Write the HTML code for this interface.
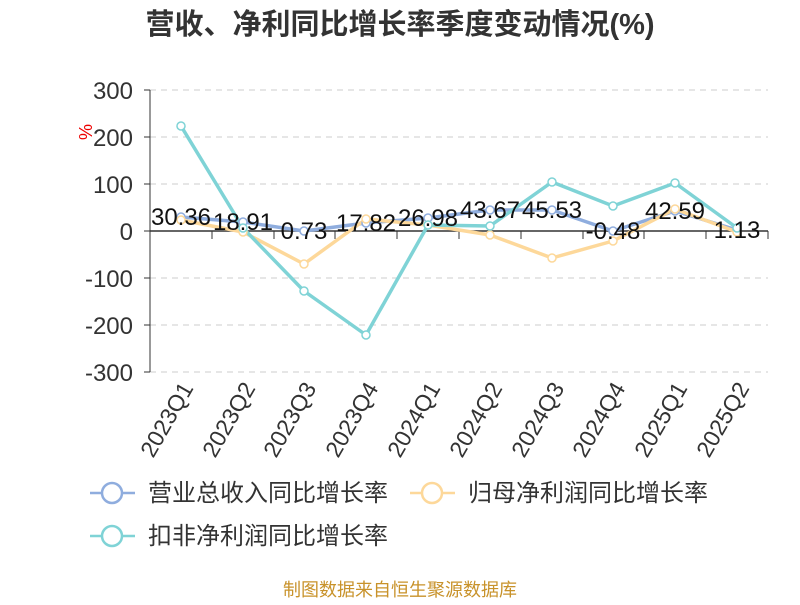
<!DOCTYPE html>
<html><head><meta charset="utf-8"><style>
body{margin:0;background:#fff;}
svg text{font-family:"Liberation Sans","Noto Sans CJK SC",sans-serif;}
</style></head><body>
<svg width="800" height="600" xmlns="http://www.w3.org/2000/svg">
<rect width="800" height="600" fill="#fff"/>
<text x="400" y="34" text-anchor="middle" font-size="29" font-weight="bold" fill="#333">营收、净利同比增长率季度变动情况(%)</text>
<g stroke="#ccc" stroke-dasharray="6,5" stroke-width="1">
<line x1="150" y1="90" x2="768" y2="90"/><line x1="150" y1="137" x2="768" y2="137"/><line x1="150" y1="184" x2="768" y2="184"/>
<line x1="150" y1="278" x2="768" y2="278"/><line x1="150" y1="325" x2="768" y2="325"/><line x1="150" y1="372" x2="768" y2="372"/>
</g>
<line x1="150" y1="90" x2="150" y2="372" stroke="#333"/>
<g stroke="#333"><line x1="144" y1="90" x2="150" y2="90"/><line x1="144" y1="137" x2="150" y2="137"/><line x1="144" y1="184" x2="150" y2="184"/><line x1="144" y1="231" x2="150" y2="231"/><line x1="144" y1="278" x2="150" y2="278"/><line x1="144" y1="325" x2="150" y2="325"/><line x1="144" y1="372" x2="150" y2="372"/></g>
<line x1="150" y1="231" x2="768" y2="231" stroke="#333" stroke-width="1.5"/>
<g stroke="#333">
<line x1="212" y1="231" x2="212" y2="239"/><line x1="274" y1="231" x2="274" y2="239"/><line x1="335" y1="231" x2="335" y2="239"/><line x1="397" y1="231" x2="397" y2="239"/><line x1="459" y1="231" x2="459" y2="239"/><line x1="521" y1="231" x2="521" y2="239"/><line x1="583" y1="231" x2="583" y2="239"/><line x1="644" y1="231" x2="644" y2="239"/><line x1="706" y1="231" x2="706" y2="239"/><line x1="768" y1="231" x2="768" y2="239"/>
</g>
<g font-size="24" fill="#333" text-anchor="end">
<text x="133" y="99">300</text><text x="133" y="146">200</text><text x="133" y="193">100</text><text x="133" y="240">0</text><text x="133" y="287">-100</text><text x="133" y="334">-200</text><text x="133" y="381">-300</text>
</g>
<text x="0" y="0" font-size="18" fill="#e00" transform="translate(92,132) rotate(-90)" text-anchor="middle">%</text>
<g font-size="23" fill="#333" text-anchor="end">
<text transform="translate(194,388) rotate(-60)">2023Q1</text>
<text transform="translate(256,388) rotate(-60)">2023Q2</text>
<text transform="translate(317,388) rotate(-60)">2023Q3</text>
<text transform="translate(379,388) rotate(-60)">2023Q4</text>
<text transform="translate(441,388) rotate(-60)">2024Q1</text>
<text transform="translate(503,388) rotate(-60)">2024Q2</text>
<text transform="translate(565,388) rotate(-60)">2024Q3</text>
<text transform="translate(626,388) rotate(-60)">2024Q4</text>
<text transform="translate(688,388) rotate(-60)">2025Q1</text>
<text transform="translate(750,388) rotate(-60)">2025Q2</text>
</g>
<g fill="none" stroke-width="3.5" stroke-linejoin="round">
<polyline stroke="#8fadde" points="181,217 243,222 304,231 366,223 428,218 490,210 552,210 613,231 675,211 737,230"/>
<polyline stroke="#fdd89a" points="181,220 243,232 304,264 366,219 428,225 490,235 552,258 613,241 675,209 737,232"/>
<polyline stroke="#7fd3d6" points="181,126 243,228 304,291 366,335 428,225 490,226 552,182 613,206 675,183 737,228"/>
</g>
<g fill="#fff" stroke-width="1.5">
<g stroke="#8fadde"><circle cx="181" cy="217" r="4"/><circle cx="243" cy="222" r="4"/><circle cx="304" cy="231" r="4"/><circle cx="366" cy="223" r="4"/><circle cx="428" cy="218" r="4"/><circle cx="490" cy="210" r="4"/><circle cx="552" cy="210" r="4"/><circle cx="613" cy="231" r="4"/><circle cx="675" cy="211" r="4"/><circle cx="737" cy="230" r="4"/></g>
<g stroke="#fdd89a"><circle cx="181" cy="220" r="4"/><circle cx="243" cy="232" r="4"/><circle cx="304" cy="264" r="4"/><circle cx="366" cy="219" r="4"/><circle cx="428" cy="225" r="4"/><circle cx="490" cy="235" r="4"/><circle cx="552" cy="258" r="4"/><circle cx="613" cy="241" r="4"/><circle cx="675" cy="209" r="4"/><circle cx="737" cy="232" r="4"/></g>
<g stroke="#7fd3d6"><circle cx="181" cy="126" r="4"/><circle cx="243" cy="228" r="4"/><circle cx="304" cy="291" r="4"/><circle cx="366" cy="335" r="4"/><circle cx="428" cy="225" r="4"/><circle cx="490" cy="226" r="4"/><circle cx="552" cy="182" r="4"/><circle cx="613" cy="206" r="4"/><circle cx="675" cy="183" r="4"/><circle cx="737" cy="228" r="4"/></g>
</g>
<g font-size="24" fill="#111" text-anchor="middle">
<text x="181" y="225">30.36</text><text x="243" y="230">18.91</text><text x="304" y="239">0.73</text><text x="366" y="231">17.82</text><text x="428" y="226">26.98</text><text x="490" y="218">43.67</text><text x="552" y="218">45.53</text><text x="613" y="239">-0.48</text><text x="675" y="219">42.59</text><text x="737" y="238">1.13</text>
</g>
<g stroke-width="2.5" fill="#fff">
<line x1="90" y1="493" x2="135" y2="493" stroke="#8fadde"/><circle cx="112" cy="493" r="10" stroke="#8fadde"/>
<line x1="410" y1="493" x2="455" y2="493" stroke="#fdd89a"/><circle cx="432" cy="493" r="10" stroke="#fdd89a"/>
<line x1="90" y1="536" x2="135" y2="536" stroke="#7fd3d6"/><circle cx="112" cy="536" r="10" stroke="#7fd3d6"/>
</g>
<g font-size="24" fill="#333">
<text x="148" y="501">营业总收入同比增长率</text>
<text x="468" y="501">归母净利润同比增长率</text>
<text x="148" y="544">扣非净利润同比增长率</text>
</g>
<text x="400" y="596" text-anchor="middle" font-size="18" fill="#c8922a">制图数据来自恒生聚源数据库</text>
</svg>
</body></html>
